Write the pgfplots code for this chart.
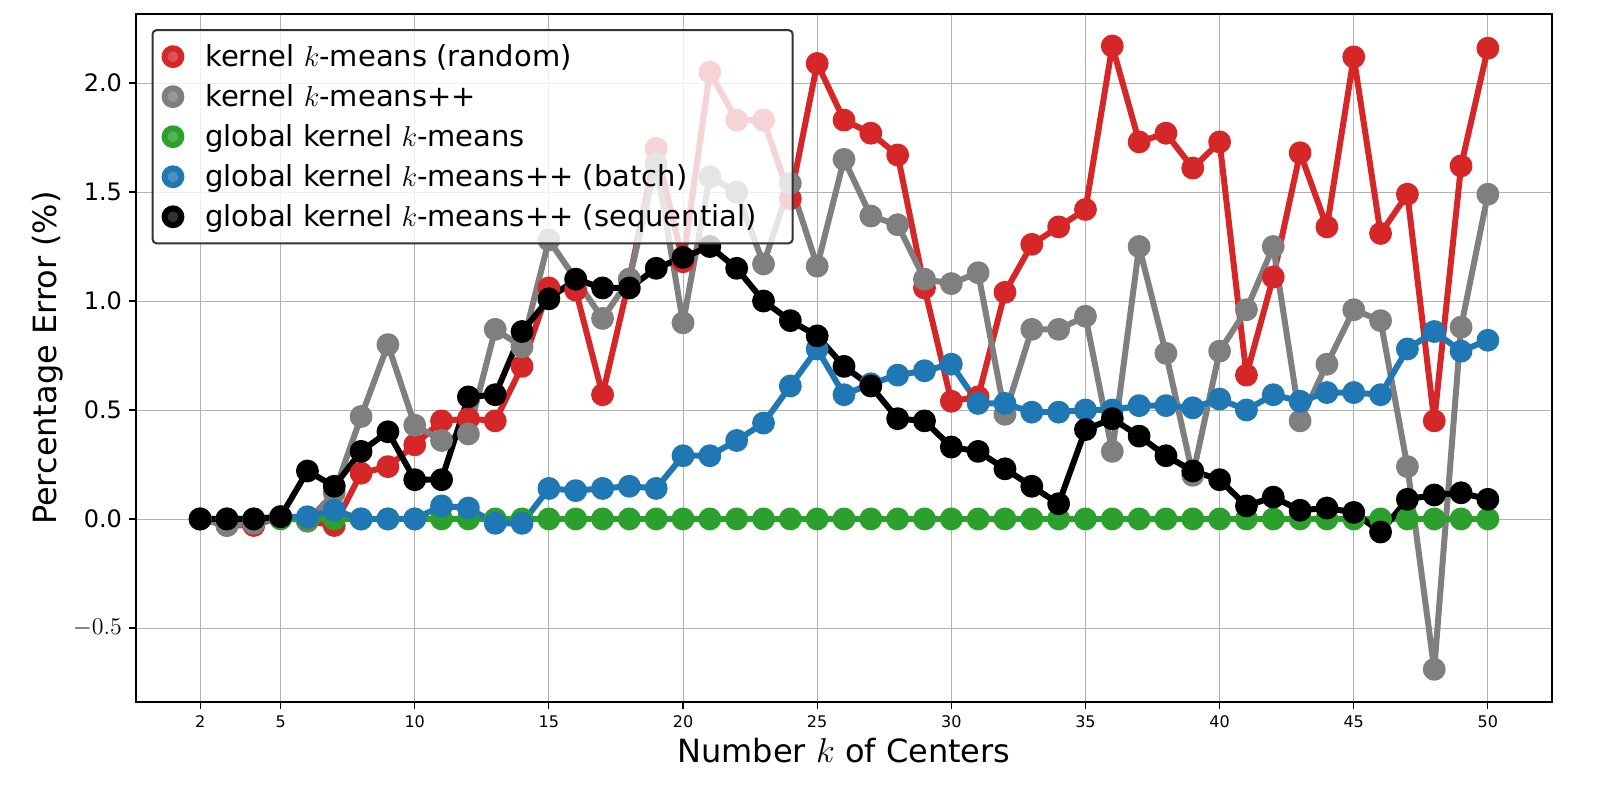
\documentclass[border=0pt]{standalone}
\usepackage{pgfplots}
\pgfplotsset{compat=1.18}
\usepackage{fontspec}
\setmainfont{DejaVu Sans}
\definecolor{tred}{HTML}{D62728}
\definecolor{tgray}{HTML}{7F7F7F}
\definecolor{tgreen}{HTML}{2CA02C}
\definecolor{tblue}{HTML}{1F77B4}
\begin{document}
\begin{tikzpicture}
\begin{axis}[
  at={(0,0)}, anchor=south west,
  scale only axis, width=708pt, height=344pt,
  xmin=-0.39, xmax=52.39, ymin=-0.84, ymax=2.317,
  xtick={2,5,10,15,20,25,30,35,40,45,50},
  ytick={-0.5,0,0.5,1,1.5,2},
  yticklabels={$-0.5$,0.0,0.5,1.0,1.5,2.0},
  /pgf/number format/assume math mode=true,
  tick pos=left, tick align=outside,
  grid=major, grid style={gray!60, line width=0.4pt},
  axis line style={line width=1.3pt},
  tick style={line width=0.6pt,black},
  major tick length=3.5pt,
  xticklabel style={font=\fontsize{8}{9}\selectfont},
  yticklabel style={font=\fontsize{12}{14}\selectfont},
  xlabel={Number $k$ of Centers},
  ylabel={Percentage Error ($\%$)},
  xlabel style={font=\fontsize{16}{18}\selectfont, yshift=2pt},
  ylabel style={font=\fontsize{16}{18}\selectfont, yshift=-2pt},
  every axis plot/.append style={line width=3pt, line join=round, mark=*, mark size=4.2pt},
  legend image code/.code={\draw[#1] plot coordinates {(0.25cm,0cm)};},
  legend style={at={(0.011,0.978)}, anchor=north west, font=\fontsize{14.5}{17}\selectfont,
    fill=white, fill opacity=0.8, text opacity=1, draw=black!80, line width=1pt,
    rounded corners=2pt, row sep=3.5pt, inner xsep=6pt, inner ysep=5pt,
    nodes={inner xsep=12pt}},
  legend cell align=left,
]
\addplot[color=tred, mark options={fill=tred}] coordinates {
(2,0)(3,-0.03)(4,-0.03)(5,0.01)(6,-0.01)(7,-0.03)(8,0.21)(9,0.24)(10,0.34)(11,0.45)(12,0.46)(13,0.45)(14,0.70)(15,1.06)(16,1.05)(17,0.57)(18,1.10)(19,1.70)(20,1.18)(21,2.05)(22,1.83)(23,1.83)(24,1.47)(25,2.09)(26,1.83)(27,1.77)(28,1.67)(29,1.06)(30,0.54)(31,0.56)(32,1.04)(33,1.26)(34,1.34)(35,1.42)(36,2.17)(37,1.73)(38,1.77)(39,1.61)(40,1.73)(41,0.66)(42,1.11)(43,1.68)(44,1.34)(45,2.12)(46,1.31)(47,1.49)(48,0.45)(49,1.62)(50,2.16)};
\addlegendentry{kernel $k$-means (random)}
\addplot[color=tgray, mark options={fill=tgray}] coordinates {
(2,0)(3,-0.03)(4,-0.02)(5,0.01)(6,-0.01)(7,0.12)(8,0.47)(9,0.80)(10,0.43)(11,0.36)(12,0.39)(13,0.87)(14,0.79)(15,1.28)(16,1.10)(17,0.92)(18,1.10)(19,1.63)(20,0.90)(21,1.57)(22,1.50)(23,1.17)(24,1.54)(25,1.16)(26,1.65)(27,1.39)(28,1.35)(29,1.10)(30,1.08)(31,1.13)(32,0.48)(33,0.87)(34,0.87)(35,0.93)(36,0.31)(37,1.25)(38,0.76)(39,0.20)(40,0.77)(41,0.96)(42,1.25)(43,0.45)(44,0.71)(45,0.96)(46,0.91)(47,0.24)(48,-0.69)(49,0.88)(50,1.49)};
\addlegendentry{kernel $k$-means++}
\addplot[color=tgreen, mark options={fill=tgreen}] coordinates {
(2,0)(3,0)(4,0)(5,0)(6,0)(7,0)(8,0)(9,0)(10,0)(11,0)(12,0)(13,0)(14,0)(15,0)(16,0)(17,0)(18,0)(19,0)(20,0)(21,0)(22,0)(23,0)(24,0)(25,0)(26,0)(27,0)(28,0)(29,0)(30,0)(31,0)(32,0)(33,0)(34,0)(35,0)(36,0)(37,0)(38,0)(39,0)(40,0)(41,0)(42,0)(43,0)(44,0)(45,0)(46,0)(47,0)(48,0)(49,0)(50,0)};
\addlegendentry{global kernel $k$-means}
\addplot[color=tblue, mark options={fill=tblue}] coordinates {
(2,0)(3,0)(4,0)(5,0.01)(6,0.01)(7,0.04)(8,0)(9,0)(10,0)(11,0.06)(12,0.05)(13,-0.02)(14,-0.02)(15,0.14)(16,0.13)(17,0.14)(18,0.15)(19,0.14)(20,0.29)(21,0.29)(22,0.36)(23,0.44)(24,0.61)(25,0.78)(26,0.57)(27,0.62)(28,0.66)(29,0.68)(30,0.71)(31,0.53)(32,0.53)(33,0.49)(34,0.49)(35,0.50)(36,0.50)(37,0.52)(38,0.52)(39,0.51)(40,0.55)(41,0.50)(42,0.57)(43,0.54)(44,0.58)(45,0.58)(46,0.57)(47,0.78)(48,0.86)(49,0.77)(50,0.82)};
\addlegendentry{global kernel $k$-means++ (batch)}
\addplot[color=black, mark options={fill=black}] coordinates {
(2,0)(3,0)(4,0)(5,0.01)(6,0.22)(7,0.15)(8,0.31)(9,0.40)(10,0.18)(11,0.18)(12,0.56)(13,0.57)(14,0.86)(15,1.01)(16,1.10)(17,1.06)(18,1.06)(19,1.15)(20,1.20)(21,1.25)(22,1.15)(23,1.00)(24,0.91)(25,0.84)(26,0.70)(27,0.61)(28,0.46)(29,0.45)(30,0.33)(31,0.31)(32,0.23)(33,0.15)(34,0.07)(35,0.41)(36,0.46)(37,0.38)(38,0.29)(39,0.22)(40,0.18)(41,0.06)(42,0.10)(43,0.04)(44,0.05)(45,0.03)(46,-0.06)(47,0.09)(48,0.11)(49,0.12)(50,0.09)};
\addlegendentry{global kernel $k$-means++ (sequential)}
\end{axis}
\pgfresetboundingbox
\useasboundingbox (-68pt,-49pt) rectangle (732pt,351pt);
\end{tikzpicture}
\end{document}
